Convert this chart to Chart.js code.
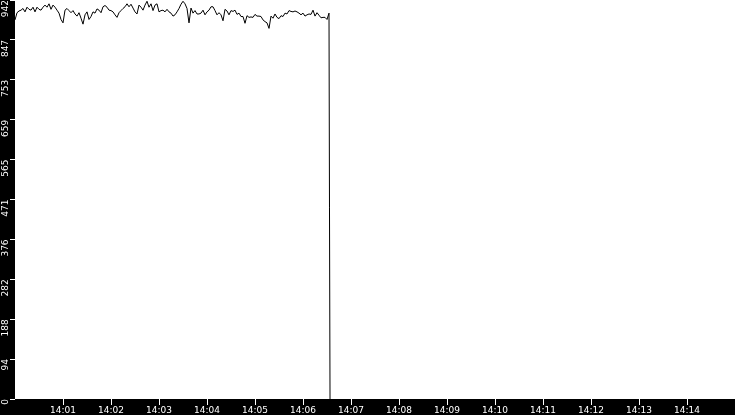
<!DOCTYPE html>
<html>
<head>
<meta charset="utf-8">
<script src="https://cdn.jsdelivr.net/npm/chart.js@4.4.1/dist/chart.umd.min.js"></script>
<style>
  html, body { margin: 0; padding: 0; background: #000; }
  #wrap { width: 735px; height: 415px; position: relative; }
</style>
</head>
<body>
<div id="wrap"><canvas id="c"></canvas></div>
<script>
// Sampling: one reading every 2.5 s starting at 14:00:00 (x axis in minutes after 14:00)
const sampleStepMinutes = 2.5 / 60;
const values = [
  895, 912, 916, 918, 922, 914, 925, 920, 918, 925, 914, 925, 920, 918, 925, 930, 925, 933, 920, 930,
  925, 918, 911, 896, 888, 918, 922, 917, 912, 917, 909, 904, 912, 899, 885, 907, 914, 896, 903, 914,
  911, 921, 918, 912, 926, 929, 925, 918, 917, 914, 907, 901, 912, 917, 922, 926, 933, 926, 932, 923,
  914, 909, 930, 925, 918, 930, 939, 925, 933, 917, 930, 933, 914, 917, 918, 914, 920, 914, 911, 904,
  907, 914, 922, 932, 939, 933, 922, 888, 923, 911, 917, 909, 909, 911, 918, 907, 914, 918, 926, 926,
  917, 907, 912, 907, 893, 920, 916, 907, 917, 915, 918, 908, 911, 903, 903, 887, 905, 901, 902, 901,
  908, 904, 904, 903, 895, 891, 888, 875, 904, 899, 909, 901, 898, 905, 903, 911, 909, 917, 915, 914,
  916, 914, 911, 907, 911, 904, 907, 909, 908, 918, 904, 912, 906, 900, 901, 901, 896, 911
];
// the final drop after the last reading
const dropMinutes = [6.552, 6.563];
const dropValues = [453, 0];

const xTickValues = [1, 2, 3, 4, 5, 6, 7, 8, 9, 10, 11, 12, 13, 14];
const xTickLabels = ['14:01', '14:02', '14:03', '14:04', '14:05', '14:06', '14:07',
                     '14:08', '14:09', '14:10', '14:11', '14:12', '14:13', '14:14'];
const yTickValues = [0, 94.2, 188.4, 282.6, 376.8, 471, 565.2, 659.4, 753.6, 847.8, 942];
const yTickLabels = ['0', '94', '188', '282', '376', '471', '565', '659', '753', '847', '942'];

const points = values.map((v, i) => ({ x: i * sampleStepMinutes, y: v }));
dropMinutes.forEach((m, i) => points.push({ x: m, y: dropValues[i] }));

const plotBg = {
  id: 'plotBg',
  beforeDraw(chart) {
    const { ctx, chartArea: a } = chart;
    ctx.save();
    ctx.fillStyle = '#000';
    ctx.fillRect(0, 0, chart.width, chart.height);
    ctx.fillStyle = '#fff';
    ctx.fillRect(a.left, a.top, a.right - a.left, a.bottom - a.top);
    ctx.restore();
  }
};

const font = { family: 'DejaVu Sans', size: 9 };

new Chart(document.getElementById('c'), {
  type: 'line',
  data: {
    datasets: [{
      data: points,
      borderColor: '#000',
      borderWidth: 1,
      pointRadius: 0,
      tension: 0,
      fill: false
    }]
  },
  options: {
    responsive: true,
    maintainAspectRatio: false,
    devicePixelRatio: 1,
    animation: false,
    parsing: true,
    layout: { padding: 0 },
    plugins: { legend: { display: false }, tooltip: { enabled: false } },
    scales: {
      x: {
        type: 'linear',
        min: 0,
        max: 15,
        border: { display: false },
        grid: { drawOnChartArea: false, tickLength: 6, tickColor: '#fff', color: '#fff' },
        ticks: {
          color: '#fff',
          font,
          padding: 0,
          autoSkip: false,
          maxRotation: 0,
          minRotation: 0,
          callback: (v, i) => xTickLabels[i]
        },
        afterBuildTicks: (s) => { s.ticks = xTickValues.map(v => ({ value: v })); },
        afterFit: (s) => { s.height = 16; s.paddingLeft = 0; s.paddingRight = 0; s.paddingTop = 0; s.paddingBottom = 0; }
      },
      y: {
        type: 'linear',
        min: 0,
        max: 942,
        border: { display: false },
        grid: { drawOnChartArea: false, tickLength: 5, tickColor: '#fff', color: '#fff' },
        ticks: {
          color: '#fff',
          font,
          padding: 4,
          autoSkip: false,
          minRotation: 90,
          maxRotation: 90,
          callback: (v, i) => yTickLabels[i]
        },
        afterBuildTicks: (s) => { s.ticks = yTickValues.map(v => ({ value: v })); },
        afterFit: (s) => { s.width = 15; s.paddingLeft = 0; s.paddingRight = 0; s.paddingTop = 0; s.paddingBottom = 0; }
      }
    }
  },
  plugins: [plotBg]
});
</script>
</body>
</html>
